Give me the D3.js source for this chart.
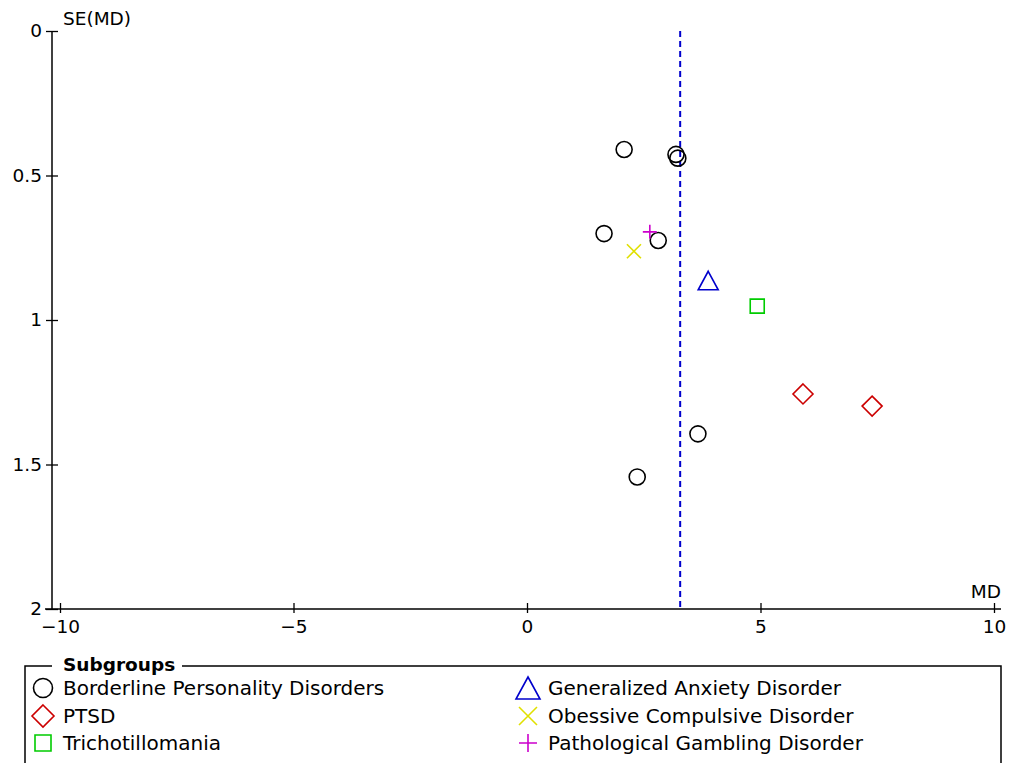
<!DOCTYPE html>
<html><head><meta charset="utf-8">
<script src="https://cdn.jsdelivr.net/npm/d3@7"></script>
<style>body{margin:0;background:#fff}svg{display:block}text{font-family:"DejaVu Sans",sans-serif}</style>
</head><body>
<svg id="c" width="1010" height="763"></svg>
<script>
const groups = ["Borderline Personality Disorders","PTSD","Trichotillomania","Generalized Anxiety Disorder","Obessive Compulsive Disorder","Pathological Gambling Disorder"];
const groupColors = ["#000000","#CC0000","#00CC00","#0000CC","#E0E000","#CC00CC"];
const groupSymbols = ["circle","diamond","square","triangle","x","plus"];
const studyMD = [2.08,3.19,3.23,1.65,2.81,3.66,2.36,5.91,7.39,4.93,3.88,2.29,2.63];
const studySE = [0.410,0.427,0.440,0.701,0.725,1.394,1.543,1.256,1.298,0.952,0.866,0.762,0.695];
const studyGroup = [0,0,0,0,0,0,0,1,1,2,3,4,5];
const pooledMD = 3.28;
const xTicks = [-10,-5,0,5,10];
const yTicks = [0,0.5,1,1.5,2];

const svg = d3.select("#c");
const x = d3.scaleLinear().domain([-10,10]).range([60,994]);
const y = d3.scaleLinear().domain([0,2]).range([31,609]);
const fmt = d => d < 0 ? "\u2212" + Math.abs(d) : String(d);
const axisFont = 18.5;

function circlePath(r){const p=d3.path();p.arc(0,0,r,0,Math.PI*2);return p.toString();}
const plotPaths = {
  circle: circlePath(8),
  diamond: "M0,-10L10,0L0,10L-10,0Z",
  square: "M-7,-7H7V7H-7Z",
  triangle: "M0,-10L10,8.5H-10Z",
  x: "M-7,-7L7,7M7,-7L-7,7",
  plus: "M-7,0H7M0,-7V7"
};
const legendPaths = {
  circle: circlePath(9.5),
  diamond: "M0,-11L11,0L0,11L-11,0Z",
  square: "M-8,-8H8V8H-8Z",
  triangle: "M0,-11L12,11H-12Z",
  x: "M-9,-9L9,9M9,-9L-9,9",
  plus: "M-9,0H9M0,-9V9"
};

// axes
const gx = svg.append("g").attr("transform","translate(0,609)")
  .call(d3.axisBottom(x).tickValues(xTicks).tickFormat(fmt).tickSizeInner(6).tickSizeOuter(0));
gx.select(".domain").remove();
gx.selectAll(".tick line").attr("y1",-6).attr("y2",4).attr("stroke","#000").attr("stroke-width",1.3);
gx.selectAll(".tick text").attr("font-size",axisFont).attr("y",11).attr("fill","#000");
svg.append("line").attr("x1",45).attr("x2",1001).attr("y1",609).attr("y2",609).attr("stroke","#000").attr("stroke-width",1.5);

const gy = svg.append("g").attr("transform","translate(52,0)")
  .call(d3.axisLeft(y).tickValues(yTicks).tickFormat(d=>String(d)).tickSizeInner(6).tickSizeOuter(0));
gy.select(".domain").remove();
gy.selectAll(".tick line").attr("x1",-6).attr("x2",6).attr("stroke","#000").attr("stroke-width",1.3);
gy.selectAll(".tick text").attr("font-size",axisFont).attr("x",-10).attr("fill","#000");
svg.append("line").attr("x1",52).attr("x2",52).attr("y1",31).attr("y2",609).attr("stroke","#000").attr("stroke-width",1.5);

svg.append("text").attr("x",63).attr("y",25).attr("font-size",axisFont).text("SE(MD)");
svg.append("text").attr("x",1001).attr("y",598).attr("text-anchor","end").attr("font-size",axisFont).text("MD");

// pooled line
svg.append("line").attr("x1",x(pooledMD)).attr("x2",x(pooledMD)).attr("y1",y(0)).attr("y2",y(2))
  .attr("stroke","#0000CC").attr("stroke-width",2).attr("stroke-dasharray","6,4");

// points
studyMD.forEach((m,i)=>{
  const k = studyGroup[i];
  svg.append("path").attr("transform",`translate(${x(m)},${y(studySE[i])})`)
    .attr("d", plotPaths[groupSymbols[k]]).attr("fill","none")
    .attr("stroke",groupColors[k]).attr("stroke-width",1.6);
});

// legend
svg.append("path").attr("d","M52,666H25V775M182,666H1001V775").attr("fill","none").attr("stroke","#000").attr("stroke-width",1.5);
svg.append("text").attr("x",63).attr("y",671).attr("font-size",18.5).attr("font-weight","bold").text("Subgroups");
const legendPos = [[43,688],[43,716],[43,743],[528,688],[528,716],[528,743]];
groups.forEach((gname,i)=>{
  const [lx,ly] = legendPos[i];
  svg.append("path").attr("transform",`translate(${lx},${ly})`)
    .attr("d", legendPaths[groupSymbols[i]]).attr("fill","none")
    .attr("stroke",groupColors[i]).attr("stroke-width",1.6);
  svg.append("text").attr("x",lx+20).attr("y",ly).attr("dy","0.36em").attr("font-size",20).text(gname);
});
</script>
</body></html>
